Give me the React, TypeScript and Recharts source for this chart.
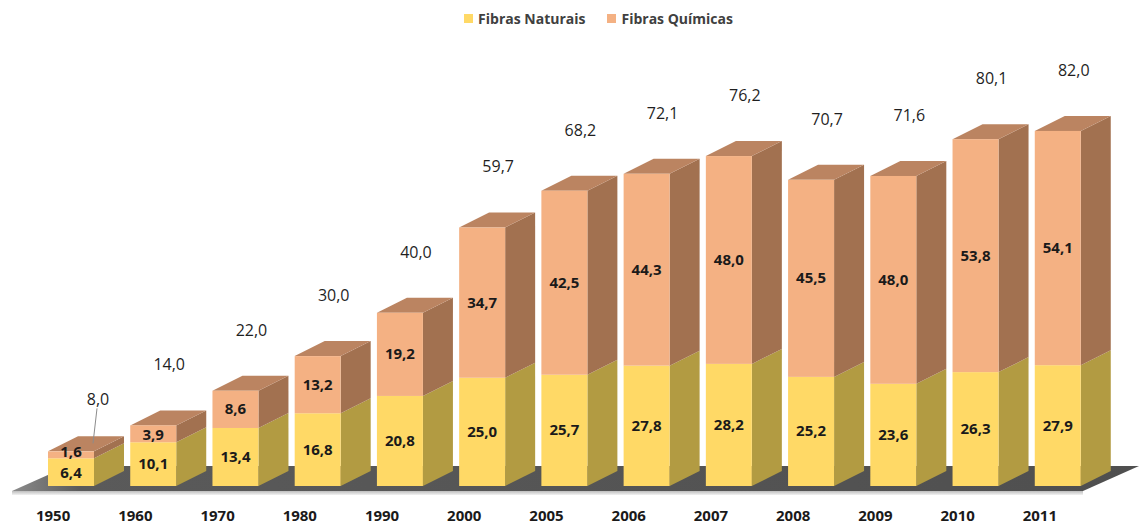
import { BarChart, Bar, XAxis, YAxis, LabelList, ReferenceArea } from "recharts";

// ── Dados ──────────────────────────────────────────────────────────────────────
const ANOS = ["1950", "1960", "1970", "1980", "1990", "2000", "2005", "2006", "2007", "2008", "2009", "2010", "2011"];
const NATURAIS = [6.4, 10.1, 13.4, 16.8, 20.8, 25.0, 25.7, 27.8, 28.2, 25.2, 23.6, 26.3, 27.9];
const QUIMICAS = [1.6, 3.9, 8.6, 13.2, 19.2, 34.7, 42.5, 44.3, 48.0, 45.5, 48.0, 53.8, 54.1];
const TOTAIS = [8.0, 14.0, 22.0, 30.0, 40.0, 59.7, 68.2, 72.1, 76.2, 70.7, 71.6, 80.1, 82.0];

const data = ANOS.map((ano, i) => ({ ano, naturais: NATURAIS[i], quimicas: QUIMICAS[i], total: TOTAIS[i] }));

// ── Estilos ────────────────────────────────────────────────────────────────────
const FONT = "'Open Sans', 'DejaVu Sans', sans-serif";
const W = 1139;
const H = 526;
const DX = 30; // profundidade 3D
const DY = 15;

const COR = {
  natFront: "#FFD966",
  natSide: "#B29B42",
  quiFront: "#F4B183",
  quiSide: "#A27150",
  quiTop: "#BB8461",
};

const fmt = (v: number) => v.toFixed(1).replace(".", ",");

// caixa 3D: frente + lateral (+ topo)
function Caixa(props: any, side: string, top?: string) {
  const { x, y, width: w, height: h, fill } = props;
  if (w == null || h == null) return <g />;
  return (
    <g>
      <polygon
        points={`${x + w},${y} ${x + w + DX},${y - DY} ${x + w + DX},${y + h - DY} ${x + w},${y + h}`}
        fill={side}
      />
      {top && (
        <polygon
          points={`${x},${y} ${x + DX},${y - DY} ${x + w + DX},${y - DY} ${x + w},${y}`}
          fill={top}
        />
      )}
      <rect x={x} y={y} width={w} height={h} fill={fill} />
    </g>
  );
}

function Piso(props: any) {
  const { x, y, width, height } = props;
  const base = y + height;
  const x0 = x - 18;
  const x1 = x + width - 16;
  return (
    <g>
      <defs>
        <linearGradient id="pisoG" x1="0" y1="0" x2="1" y2="0">
          <stop offset="0" stopColor="#8c8c8c" />
          <stop offset="0.06" stopColor="#5a5a5a" />
          <stop offset="1" stopColor="#4f4f4f" />
        </linearGradient>
        <linearGradient id="bordaG" x1="0" y1="0" x2="0" y2="1">
          <stop offset="0" stopColor="#bdbdbd" />
          <stop offset="1" stopColor="#f2f2f2" />
        </linearGradient>
      </defs>
      <polygon points={`${x0},${base + 5} ${x1},${base + 5} ${x1},${base + 9} ${x0},${base + 9}`} fill="url(#bordaG)" />
      <polygon
        points={`${x0},${base + 5} ${x1},${base + 5} ${x1 + 56},${base - 20} ${x0 + 56},${base - 20}`}
        fill="url(#pisoG)"
      />
    </g>
  );
}

function ValorInterno(props: any) {
  const { x, y, width, height, value } = props;
  // segmentos muito baixos: afasta um pouco o texto
  const ajuste = height < 10 ? -3 : height < 30 ? 1 : 0;
  return (
    <text
      x={x + width / 2}
      y={y + height / 2 + ajuste}
      dy={5}
      textAnchor="middle"
      fontFamily={FONT}
      fontWeight={700}
      fontSize={15}
      fill="#1a1a1a"
    >
      {fmt(value)}
    </text>
  );
}

function ValorTotal(props: any) {
  const { x, y, width, index } = props;
  const total = TOTAIS[index];
  const cx = x + width / 2 + 16;
  const ty = y - 55;
  const pequeno = total < 10;
  return (
    <g>
      {pequeno && <line x1={cx + 10} y1={ty + 12} x2={cx + 6} y2={y - 8} stroke="#8c8c8c" strokeWidth={1} />}
      <text
        x={pequeno ? cx + 11 : cx}
        y={pequeno ? ty + 9 : ty}
        textAnchor="middle"
        fontFamily={FONT}
        fontSize={16}
        fill="#1f1f1f"
      >
        {fmt(total)}
      </text>
    </g>
  );
}

function TickAno(props: any) {
  const { x, y, payload } = props;
  return (
    <text x={x - 18} y={y + 27} textAnchor="middle" fontFamily={FONT} fontWeight={700} fontSize={15} fill="#1a1a1a">
      {payload.value}
    </text>
  );
}

const LEG_ITEM: React.CSSProperties = {
  display: "flex",
  alignItems: "center",
  gap: 5,
  fontFamily: FONT,
  fontWeight: 700,
  fontSize: 14,
  color: "#404040",
};

export default function App() {
  return (
    <div style={{ position: "absolute", left: 0, top: 0, width: W, height: H, background: "#fff" }}>
      <div
        style={{
          position: "absolute",
          top: 9,
          left: 0,
          width: W,
          display: "flex",
          justifyContent: "center",
          gap: 22,
          paddingLeft: 58,
          boxSizing: "border-box",
        }}
      >
        <span style={LEG_ITEM}>
          <span style={{ width: 9, height: 9, background: COR.natFront, display: "inline-block" }} />
          Fibras Naturais
        </span>
        <span style={LEG_ITEM}>
          <span style={{ width: 9, height: 9, background: COR.quiFront, display: "inline-block" }} />
          Fibras Químicas
        </span>
      </div>
      <BarChart width={W} height={H} data={data} margin={{ top: 53, right: 40, left: 30, bottom: 0 }} barSize={46}>
        <XAxis dataKey="ano" axisLine={false} tickLine={false} height={40} tick={<TickAno />} interval={0} />
        <YAxis hide domain={[0, 100]} />
        <ReferenceArea x1="1950" x2="2011" y1={0} y2={1} ifOverflow="visible" shape={<Piso />} />
        <Bar
          dataKey="naturais"
          stackId="a"
          fill={COR.natFront}
          isAnimationActive={false}
          shape={(p: any) => Caixa(p, COR.natSide)}
        >
          <LabelList dataKey="naturais" content={<ValorInterno />} />
        </Bar>
        <Bar
          dataKey="quimicas"
          stackId="a"
          fill={COR.quiFront}
          isAnimationActive={false}
          shape={(p: any) => Caixa(p, COR.quiSide, COR.quiTop)}
        >
          <LabelList dataKey="quimicas" content={<ValorInterno />} />
          <LabelList dataKey="total" content={<ValorTotal />} />
        </Bar>
      </BarChart>
    </div>
  );
}
